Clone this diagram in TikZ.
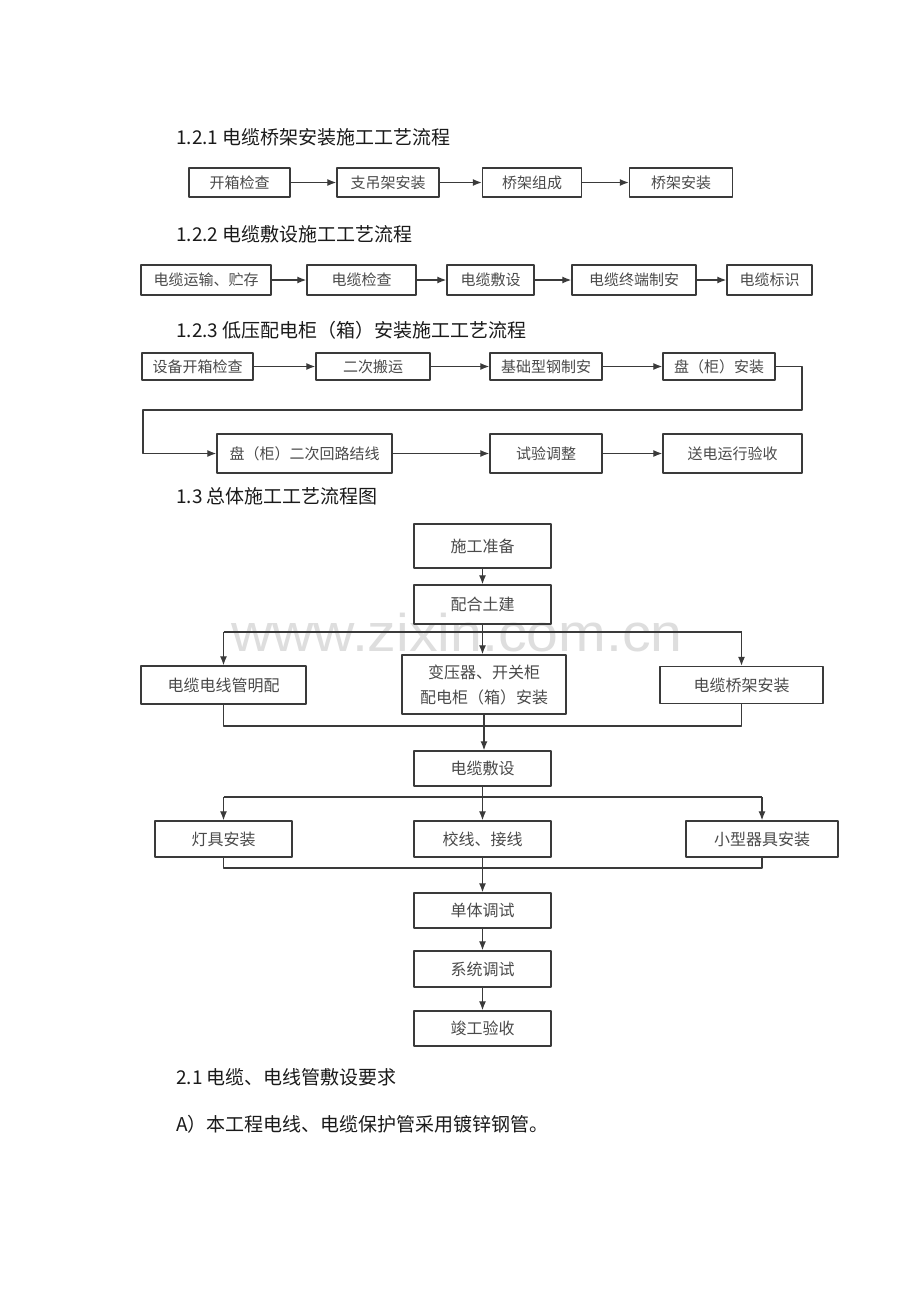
\documentclass[tikz,border=0pt]{standalone}
\usepackage{fontspec}
\usetikzlibrary{arrows.meta}
\newfontfamily\cjk{Noto Sans CJK SC}
\newfontfamily\stampfont[FakeStretch=1.08]{Liberation Sans}
\newcommand{\Unit}{1pt}
\newcommand{\Edge}{1.4pt}
\newcommand{\Wire}{1.3pt}
\definecolor{ink}{HTML}{1A1A1A}
\definecolor{frame}{HTML}{3A3A3A}
\definecolor{label}{HTML}{4A4A4A}
\definecolor{stamp}{HTML}{DEDEDE}

\begin{document}
\begin{tikzpicture}[x=\Unit,y=-\Unit, line join=round,
  stage/.style={draw=frame,line width=\Edge,text=label,inner sep=0pt,
    font=\cjk\fontsize{15}{17}\selectfont},
  flowbox/.style={stage,align=center,font=\cjk\fontsize{16}{25}\selectfont},
  heading/.style={anchor=west,inner sep=0pt,text=ink,
    font=\cjk\fontsize{19}{22}\selectfont},
  wire/.style={draw=frame,line width=\Wire},
  link/.style={wire,-{Latex[length=9pt,width=7pt]}}]

  % ---- page -----------------------------------------------------------------
  \fill[white] (0,0) rectangle (920,1302);
  \useasboundingbox (0,0) rectangle (920,1302);
  \node[anchor=base,inner sep=0pt,text height=28pt,text depth=0pt,text=stamp,
    font=\stampfont\fontsize{53}{56}\selectfont] (stamp) at (457,651) {www.zixin.com.cn};

  % ---- headings ---------------------------------------------------------------
  \node[heading] (h1) at (176,137) {1.2.1 电缆桥架安装施工工艺流程};
  \node[heading] (h2) at (176,234) {1.2.2 电缆敷设施工工艺流程};
  \node[heading] (h3) at (176,330) {1.2.3 低压配电柜（箱）安装施工工艺流程};
  \node[heading] (h4) at (176,496) {1.3 总体施工工艺流程图};

  % ---- 1.2.1 tray ---------------------------------------------------------------
  \foreach \name/\cx/\w/\txt in {a1/239.5/101/开箱检查, a2/388/102/支吊架安装,
                                 a3/532/99/桥架组成, a4/681/103/桥架安装} {
    \node[stage,minimum width=\w,minimum height=29] (\name) at (\cx,182.5) {\txt};
  }
  \foreach \a/\b in {a1/a2,a2/a3,a3/a4} \draw[link] (\a) -- (\b);

  % ---- 1.2.2 cable laying -------------------------------------------------------
  \foreach \name/\cx/\w/\txt in {b1/206/130/电缆运输、贮存, b2/361.5/109/电缆检查,
                                 b3/490.5/87/电缆敷设, b4/634/124/电缆终端制安,
                                 b5/769.5/85/电缆标识} {
    \node[stage,minimum width=\w,minimum height=30] (\name) at (\cx,280) {\txt};
  }
  \foreach \a/\b in {b1/b2,b2/b3,b3/b4,b4/b5} \draw[link] (\a) -- (\b);

  % ---- 1.2.3 cabinets, two rows with a return between them ----------------------
  \foreach \name/\cx/\w/\txt in {c1/197.5/111/设备开箱检查, c2/373/114/二次搬运,
                                 c3/546/112/基础型钢制安, c4/719/112/盘（柜）安装} {
    \node[stage,minimum width=\w,minimum height=27] (\name) at (\cx,366.5) {\txt};
  }
  \foreach \name/\cx/\w/\txt in {c5/304.5/175/盘（柜）二次回路结线,
                                 c6/546/112/试验调整, c7/732.5/139/送电运行验收} {
    \node[stage,minimum width=\w,minimum height=39] (\name) at (\cx,453.5) {\txt};
  }
  \foreach \a/\b in {c1/c2,c2/c3,c3/c4,c5/c6,c6/c7} \draw[link] (\a) -- (\b);
  \coordinate (turn) at (802,410);
  \coordinate (back) at (143,410);
  \draw[link] (c4.east) -| (turn) -- (back) |- (c5.west);

  % ---- 1.3 overall flow ---------------------------------------------------------
  \node[flowbox,minimum width=137,minimum height=44] (m1) at (482.5,546) {施工准备};
  \node[flowbox,minimum width=137,minimum height=39] (m2) at (482.5,604.5) {配合土建};
  \node[flowbox,minimum width=165,minimum height=38] (m3) at (223.5,685) {电缆电线管明配};
  \node[flowbox,minimum width=164,minimum height=59] (m4) at (484,684.5) {变压器、开关柜\\配电柜（箱）安装};
  \node[flowbox,minimum width=163,minimum height=37] (m5) at (741.5,685) {电缆桥架安装};
  \node[flowbox,minimum width=137,minimum height=35] (m6) at (482.5,768.5) {电缆敷设};
  \node[flowbox,minimum width=137,minimum height=36] (m7) at (223.5,839) {灯具安装};
  \node[flowbox,minimum width=137,minimum height=36] (m8) at (482.5,839) {校线、接线};
  \node[flowbox,minimum width=152,minimum height=36] (m9) at (762,839) {小型器具安装};
  \node[flowbox,minimum width=137,minimum height=35] (m10) at (482.5,910.5) {单体调试};
  \node[flowbox,minimum width=137,minimum height=36] (m11) at (482.5,969) {系统调试};
  \node[flowbox,minimum width=137,minimum height=35] (m12) at (482.5,1028.5) {竣工验收};

  % buses where the flow splits and joins again
  \coordinate (bus1) at (0,632);
  \coordinate (bus2) at (0,726);
  \coordinate (bus3) at (0,797);
  \coordinate (bus4) at (0,868);

  \draw[link] (m1) -- (m2);
  \draw[wire] (m3.north |- bus1) -- (m5.north |- bus1);
  \foreach \n in {m3,m5} \draw[link] (\n.north |- bus1) -- (\n.north);
  \draw[link] (m2.south) -- (m2.south |- m4.north);
  \draw[wire] (m3.south) |- (bus2 -| m5.south) -- (m5.south);
  \draw[link] (m4.south) -- (m4.south |- m6.north);

  \draw[wire] (m7.north |- bus3) -- (m9.north |- bus3);
  \foreach \n in {m7,m9} \draw[link] (\n.north |- bus3) -- (\n.north);
  \draw[link] (m6) -- (m8);
  \draw[wire] (m7.south) |- (bus4 -| m9.south) -- (m9.south);
  \draw[link] (m8) -- (m10);
  \draw[link] (m10) -- (m11);
  \draw[link] (m11) -- (m12);

  % ---- text after the chart -----------------------------------------------------
  \node[heading] (t1) at (176,1077) {2.1 电缆、电线管敷设要求};
  \node[heading] (t2) at (176,1124) {A）本工程电线、电缆保护管采用镀锌钢管。};

\end{tikzpicture}
\end{document}
